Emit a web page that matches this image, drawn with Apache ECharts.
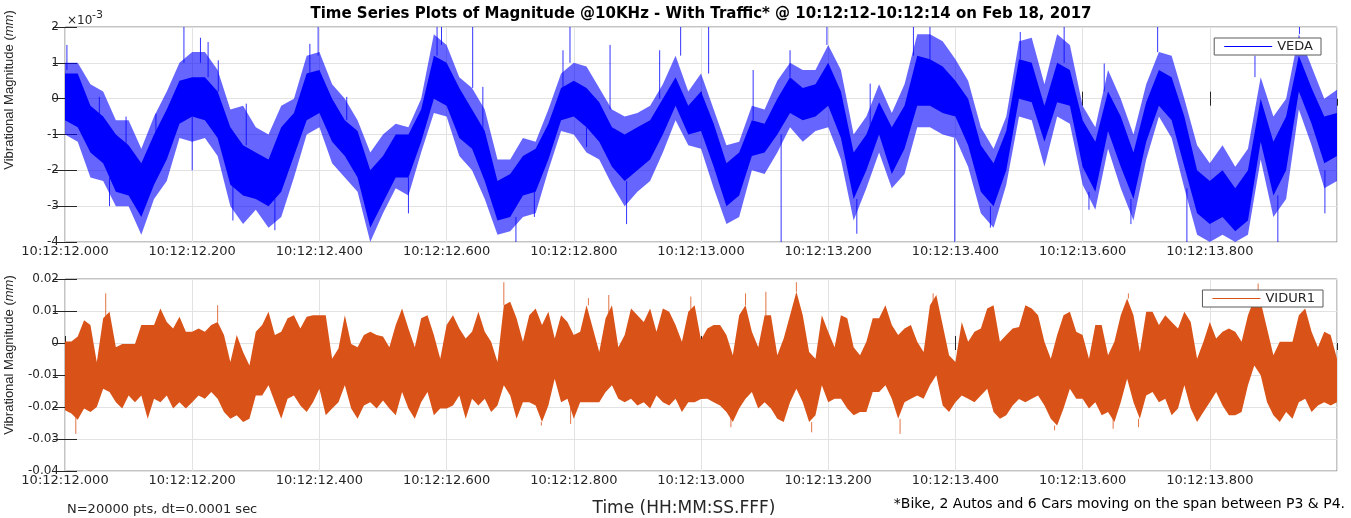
<!DOCTYPE html>
<html>
<head>
<meta charset="utf-8">
<title>Time Series Plots of Magnitude</title>
<script src="https://cdn.jsdelivr.net/npm/echarts@6/dist/echarts.min.js"></script>
<style>
html, body { margin: 0; padding: 0; background: #fff; }
#chart { width: 1351px; height: 518px; }
</style>
</head>
<body>
<div id="chart"></div>
<script>
// time in seconds after 10:12:12.000, magnitudes in 1e-3 mm
// VEDA envelope, read every 0.02 s
const vedaTime = [
  0.00, 0.02, 0.04, 0.06, 0.08, 0.10, 0.12, 0.14, 0.16, 0.18,
  0.20, 0.22, 0.24, 0.26, 0.28, 0.30, 0.32, 0.34, 0.36, 0.38,
  0.40, 0.42, 0.44, 0.46, 0.48, 0.50, 0.52, 0.54, 0.56, 0.58,
  0.60, 0.62, 0.64, 0.66, 0.68, 0.70, 0.72, 0.74, 0.76, 0.78,
  0.80, 0.82, 0.84, 0.86, 0.88, 0.90, 0.92, 0.94, 0.96, 0.98,
  1.00, 1.02, 1.04, 1.06, 1.08, 1.10, 1.12, 1.14, 1.16, 1.18,
  1.20, 1.22, 1.24, 1.26, 1.28, 1.30, 1.32, 1.34, 1.36, 1.38,
  1.40, 1.42, 1.44, 1.46, 1.48, 1.50, 1.52, 1.54, 1.56, 1.58,
  1.60, 1.62, 1.64, 1.66, 1.68, 1.70, 1.72, 1.74, 1.76, 1.78,
  1.80, 1.82, 1.84, 1.86, 1.88, 1.90, 1.92, 1.94, 1.96, 1.98,
  2.00
];
const vedaHi = [
  1.0, 1.0, 0.4, 0.2, -0.6, -0.6, -1.4, -0.5, 0.2, 1.0,
  1.3, 1.3, 0.8, -0.3, -0.2, -0.8, -1.0, -0.2, 0.0, 1.2,
  1.3, 0.4, 0.0, -0.6, -1.5, -1.0, -0.7, -0.8, 0.0, 1.8,
  1.5, 0.6, 0.3, -0.3, -1.7, -1.7, -1.1, -1.2, -0.3, 0.7,
  1.0, 0.9, 0.3, -0.3, -0.5, -0.4, -0.2, 0.4, 1.2, 0.2,
  0.7, -0.3, -1.3, -1.2, -0.2, -0.3, 0.5, 1.0, 0.8, 0.8,
  1.5, 0.8, -1.0, -0.5, 0.4, -0.4, 0.4, 1.8, 1.8, 1.6,
  1.1, 0.5, -0.8, -1.4, -0.5, 1.6, 1.7, 0.4, 1.8, 1.5,
  -0.2, -0.8, 0.8, 0.0, -1.0, 0.4, 1.3, 1.2, 0.0, -1.3,
  -1.8, -1.3, -1.9, -1.4, 0.6, -0.5, 0.0, 1.8, 0.9, 0.0,
  0.25
];
const vedaLo = [
  -1.0, -1.2, -2.2, -2.3, -3.0, -3.0, -3.8, -2.8, -2.3, -1.1,
  -1.2, -1.1, -1.6, -3.0, -3.5, -3.1, -3.6, -3.3, -2.2, -1.0,
  -0.8, -1.8, -2.2, -2.6, -4.0, -3.2, -2.5, -2.7, -1.5, -0.4,
  -0.5, -1.6, -2.0, -2.8, -3.8, -3.7, -3.3, -3.2, -2.0, -0.9,
  -1.0, -1.5, -1.7, -2.4, -3.0, -2.6, -2.3, -1.5, -0.6, -1.3,
  -1.4, -2.5, -3.5, -3.3, -2.0, -2.1, -1.5, -0.8, -1.2, -0.9,
  -0.8, -1.7, -3.4, -2.5, -1.5, -2.5, -2.1, -0.8, -0.8, -1.0,
  -1.1, -1.9, -3.2, -3.6, -2.4, -0.5, -0.6, -1.9, -0.5, -0.7,
  -2.4, -3.1, -1.4, -2.5, -3.4, -1.7, -0.5, -1.1, -2.5, -3.8,
  -4.0, -3.8, -4.0, -3.8, -1.7, -3.3, -2.8, -0.3, -1.3, -2.5,
  -2.3
];
// dense core of the VEDA trace
const vedaCoreHi = [
  0.7, 0.7, -0.2, -0.5, -1.0, -1.3, -1.8, -1.0, -0.3, 0.5,
  0.6, 0.6, 0.2, -0.8, -1.3, -1.5, -1.7, -0.8, -0.4, 0.7,
  0.8, 0.0, -0.6, -0.9, -2.0, -1.6, -1.0, -1.0, -0.3, 1.2,
  1.0, 0.3, -0.3, -0.9, -2.3, -2.1, -1.6, -1.4, -0.7, 0.3,
  0.5, 0.3, -0.1, -0.8, -1.0, -0.8, -0.6, 0.0, 0.6, -0.2,
  0.2, -0.7, -1.8, -1.5, -0.6, -0.7, 0.0, 0.6, 0.3, 0.4,
  1.0, 0.2, -1.5, -1.0, -0.1, -0.8, -0.2, 1.2, 1.1, 0.9,
  0.5, 0.0, -1.3, -1.8, -0.9, 1.1, 1.0, -0.2, 1.0, 0.8,
  -0.6, -1.2, 0.2, -0.5, -1.5, -0.1, 0.8, 0.6, -0.5, -2.0,
  -2.3, -2.0, -2.5, -2.0, 0.0, -1.2, -0.5, 1.2, 0.3, -0.5,
  -0.4
];
const vedaCoreLo = [
  -0.6, -0.8, -1.5, -1.8, -2.6, -2.7, -3.3, -2.4, -1.7, -0.7,
  -0.5, -0.6, -1.1, -2.4, -2.7, -2.8, -3.0, -2.6, -1.6, -0.6,
  -0.4, -1.2, -1.6, -2.2, -3.6, -2.9, -2.2, -2.2, -1.2, 0.0,
  -0.2, -1.1, -1.4, -2.3, -3.4, -3.3, -2.7, -2.6, -1.7, -0.6,
  -0.5, -0.8, -1.2, -1.9, -2.3, -2.0, -1.7, -1.0, -0.2, -1.0,
  -0.9, -1.9, -3.0, -2.7, -1.6, -1.5, -1.0, -0.4, -0.6, -0.5,
  -0.2, -1.1, -2.8, -2.0, -1.0, -2.1, -1.4, -0.2, -0.2, -0.4,
  -0.5, -1.3, -2.6, -3.0, -2.0, 0.0, -0.1, -1.2, -0.1, -0.2,
  -1.9, -2.6, -0.9, -1.9, -2.8, -1.2, -0.2, -0.6, -1.9, -3.2,
  -3.5, -3.3, -3.7, -3.4, -1.2, -2.7, -2.0, 0.2, -0.7, -1.8,
  -1.6
];
// individual VEDA spikes: time, start, tip
const vedaSpikeT = [
  0.003, 0.054, 0.070, 0.096, 0.143, 0.187, 0.200, 0.213, 0.225, 0.241,
  0.264, 0.285, 0.330, 0.385, 0.398, 0.443, 0.540, 0.585, 0.592, 0.641,
  0.657, 0.709, 0.738, 0.783, 0.794, 0.820, 0.857, 0.883, 0.935, 0.968,
  1.012, 1.082, 1.126, 1.140, 1.198, 1.245, 1.266, 1.334, 1.360, 1.399,
  1.455, 1.502, 1.571, 1.610, 1.634, 1.676, 1.718, 1.764, 1.871, 1.907,
  1.941, 1.981
];
const vedaSpikeFrom = [
  0.8, -0.5, -2.2, -1.3, -1.0, 1.0, -0.5, 1.0, 0.6, 0.2,
  -2.4, -1.3, -2.8, 0.7, 1.2, -0.6, -2.2, 1.2, 1.5, 0.3,
  -0.9, -3.3, -2.6, 0.3, 1.0, -0.8, -0.3, -2.3, 0.0, 1.2,
  0.7, -0.6, -1.0, 0.6, 1.5, -2.8, -1.0, 1.2, 1.1, -1.1,
  -3.0, 1.1, 1.0, -2.6, 0.2, -2.8, 1.3, -2.5, 0.6, -2.7,
  1.8, -2.0
];
const vedaSpikeTo = [
  1.5, 0.05, -3.0, -0.5, -0.42, 2.0, -2.0, 1.7, 1.58, 1.07,
  -3.4, -0.14, -3.67, 1.53, 2.0, 0.05, -3.2, 2.0, 2.0, 2.0,
  0.33, -4.0, -3.3, 1.35, 2.0, -1.35, 1.5, -3.5, 1.35, 2.0,
  2.0, 0.8, -4.0, 1.35, 2.0, -3.77, 0.42, 2.0, 2.0, -4.0,
  -3.6, 1.86, 2.0, -3.1, 0.98, -3.5, 2.0, -4.0, 1.2, -4.0,
  2.0, -3.2
];

// VIDUR1 envelope, read every 0.01 s
const vidurTime = [
  0.00, 0.01, 0.02, 0.03, 0.04, 0.05, 0.06, 0.07, 0.08, 0.09,
  0.10, 0.11, 0.12, 0.13, 0.14, 0.15, 0.16, 0.17, 0.18, 0.19,
  0.20, 0.21, 0.22, 0.23, 0.24, 0.25, 0.26, 0.27, 0.28, 0.29,
  0.30, 0.31, 0.32, 0.33, 0.34, 0.35, 0.36, 0.37, 0.38, 0.39,
  0.40, 0.41, 0.42, 0.43, 0.44, 0.45, 0.46, 0.47, 0.48, 0.49,
  0.50, 0.51, 0.52, 0.53, 0.54, 0.55, 0.56, 0.57, 0.58, 0.59,
  0.60, 0.61, 0.62, 0.63, 0.64, 0.65, 0.66, 0.67, 0.68, 0.69,
  0.70, 0.71, 0.72, 0.73, 0.74, 0.75, 0.76, 0.77, 0.78, 0.79,
  0.80, 0.81, 0.82, 0.83, 0.84, 0.85, 0.86, 0.87, 0.88, 0.89,
  0.90, 0.91, 0.92, 0.93, 0.94, 0.95, 0.96, 0.97, 0.98, 0.99,
  1.00, 1.01, 1.02, 1.03, 1.04, 1.05, 1.06, 1.07, 1.08, 1.09,
  1.10, 1.11, 1.12, 1.13, 1.14, 1.15, 1.16, 1.17, 1.18, 1.19,
  1.20, 1.21, 1.22, 1.23, 1.24, 1.25, 1.26, 1.27, 1.28, 1.29,
  1.30, 1.31, 1.32, 1.33, 1.34, 1.35, 1.36, 1.37, 1.38, 1.39,
  1.40, 1.41, 1.42, 1.43, 1.44, 1.45, 1.46, 1.47, 1.48, 1.49,
  1.50, 1.51, 1.52, 1.53, 1.54, 1.55, 1.56, 1.57, 1.58, 1.59,
  1.60, 1.61, 1.62, 1.63, 1.64, 1.65, 1.66, 1.67, 1.68, 1.69,
  1.70, 1.71, 1.72, 1.73, 1.74, 1.75, 1.76, 1.77, 1.78, 1.79,
  1.80, 1.81, 1.82, 1.83, 1.84, 1.85, 1.86, 1.87, 1.88, 1.89,
  1.90, 1.91, 1.92, 1.93, 1.94, 1.95, 1.96, 1.97, 1.98, 1.99,
  2.00
];
const vidurHi = [
  0.5, 0.5, 2, 7.1, 5.6, -6, 7.7, 9.8, -1.3, -0.3,
  -0.3, -0.3, 5.6, 5.6, 5.6, 10.8, 6.6, 4.5, 8.2, 3.5,
  3.5, 4.5, 3.5, 5.6, 6.6, 2.5, -5.9, 2.5, -2.8, -7,
  3.5, 5.6, 9.8, 2.5, 3.5, 7.7, 8.7, 4.5, 8.2, 8.7,
  8.7, 8.7, -4.9, -1.7, 8.7, -0.3, -1.3, 2.5, 3.5, 2.5,
  2, -1.3, 5.6, 10.8, 4.5, -1.3, 7.7, 8.7, 2.5, -4.9,
  5.6, 8.7, 4.5, 1.4, 3.5, 9.8, 3.5, 0.4, -5.9, 11.8,
  12.9, 7.7, 0.4, 8.7, 10.8, 5.6, 9.8, 1.4, 8.7, 6.6,
  2.5, 3.5, 11.8, 4.5, -2.8, 7.7, 11.8, -1.3, 2.5, 10.8,
  8.7, 6.6, 10.8, 3.5, 10.8, 9.8, 5.6, 0.4, 9.8, 11.8,
  1, 4.5, 5.6, 5.6, 2.5, -3.8, 8.7, 11.8, 3.5, -1.3,
  8.7, 8.7, -3.8, 1.4, 8.7, 16, 8.7, -2.8, -4.9, 8.7,
  3.5, -1.3, 8.7, 7.7, -1.3, -3.8, 0.4, 7.7, 7.7, 11.8,
  5.6, 2.5, 4.5, 5.6, 0.4, -2.8, 11.8, 15, 5.6, -3.8,
  -5.9, 6.6, 0.4, 3.5, 4.5, 10.8, 11.8, 0.4, 2.5, 4.5,
  5, 11.8, 10.8, 8.7, 0.4, -4.9, 2.5, 8.7, 9.8, 3.5,
  2.5, -4.9, 5.6, 5.6, -3.8, 0.4, 8.7, 13.9, 8.7, -2.8,
  9.8, 9.8, 5.6, 8.7, 6.6, 4.5, 9.8, 6.6, -4.9, 0.4,
  6.6, 1.4, 3.5, 4.5, 3.5, 0.4, 8.7, 13.9, 12.9, 4.5,
  -3.8, 0.4, 0.4, 0.4, 8.7, 10.8, 3.5, -1.3, 3.5, 2.5,
  -4.9
];
const vidurLo = [
  -21, -22, -24, -20.5, -21.6, -20, -14.3, -15.3, -18.5, -20.5,
  -16.4, -18.5, -16.4, -23.7, -17.4, -18.5, -16.4, -20.5, -18.5, -20.5,
  -18.5, -16.4, -17.4, -15.3, -17.4, -21.6, -23.7, -22.6, -24.7, -23.7,
  -16.4, -16.4, -13.2, -18.5, -23.7, -17.4, -16.4, -19.5, -21.6, -18.5,
  -14.3, -22.6, -20.5, -18.5, -13.2, -20.5, -23.7, -19.5, -18.5, -20.5,
  -18, -20.5, -22.6, -15.3, -20.5, -23.7, -18.5, -15.3, -22.6, -20.5,
  -20.5, -19.5, -16.4, -23.7, -17.4, -19.5, -17.4, -21.6, -19.5, -13.2,
  -16.4, -23.7, -18.5, -18.5, -19.5, -24.7, -19.5, -11.2, -18.5, -17.4,
  -23.7, -18.5, -18.5, -18.5, -18.5, -15.3, -13.2, -17.4, -18.5, -17.4,
  -19.5, -18.5, -20.5, -16.4, -18.5, -19.5, -17.4, -21.6, -18.5, -18.5,
  -17.5, -17.4, -18.5, -19.5, -21.6, -24.7, -20.5, -17.4, -15.3, -20.5,
  -18.5, -20.5, -23.7, -24.7, -18.5, -14.3, -18.5, -24.7, -22.6, -13.2,
  -18.5, -17.4, -17.4, -20.5, -22.6, -21.6, -21.6, -15.3, -15.3, -13.2,
  -17.4, -23.7, -18.5, -17.4, -16.4, -17.4, -13.2, -10.1, -19.5, -21.6,
  -18.5, -16.4, -17.4, -18.5, -16.4, -14.3, -21.6, -23.7, -22.6, -19.5,
  -17.5, -18.5, -17.4, -16.4, -19.5, -23.7, -25.8, -20.5, -14.3, -17.4,
  -17.4, -20.5, -18.5, -22.6, -21.6, -24.7, -18.5, -11.2, -18.5, -23.7,
  -16.4, -15.3, -18.5, -17.4, -22.6, -20.5, -13.2, -20.5, -24.7, -21.6,
  -18.5, -15.3, -19.5, -22.6, -22.6, -21.6, -13.2, -7.0, -10.1, -18.5,
  -22.6, -24.7, -21.6, -23.7, -18.5, -17.4, -21.6, -19.5, -18.5, -19.5,
  -18.5
];
const vidurSpikeT    = [0.017, 0.064, 0.240, 0.690, 0.749, 0.795, 0.823, 0.855, 0.984, 1.047, 1.070, 1.102, 1.150, 1.174, 1.313, 1.365, 1.556, 1.648, 1.672, 1.688, 1.876];
const vidurSpikeFrom = [-22, 7.7, 6.6, 11.8, -24.7, -20, 11.8, 8, 10, -22, 11.8, 8.7, 16, -24.7, -23.7, 12, -25.8, -22, 13.9, -23.7, 13.9];
const vidurSpikeTo   = [-28.4, 15.5, 11.8, 19.0, -25.8, -25.3, 14, 15, 14.5, -26.3, 15.5, 16, 19, -27.9, -28.4, 15.5, -27.3, -26.8, 15.5, -26.3, 18.6];

const BLUE = '#0000ff';
const ORANGE = '#d95319';
const TXT = '#262626';
const FONT = 'DejaVu Sans';

const fmtTime = v => '10:12:' + (12 + v).toFixed(3);

// filled band between lo and hi, one polygon drawn through the axis scales
function band(axis, times, lo, hi, color, opacity) {
  return {
    type: 'custom', xAxisIndex: axis, yAxisIndex: axis, silent: true, clip: true,
    data: [[times[0], lo[0]]],
    renderItem: (params, api) => {
      const pts = [];
      for (let i = 0; i < times.length; i++) pts.push(api.coord([times[i], hi[i]]));
      for (let i = times.length - 1; i >= 0; i--) pts.push(api.coord([times[i], lo[i]]));
      return { type: 'polygon', shape: { points: pts }, style: { fill: color, opacity: opacity } };
    }
  };
}

function spikes(axis, ts, from, to, color) {
  return {
    type: 'custom', xAxisIndex: axis, yAxisIndex: axis, silent: true, clip: true,
    data: ts.map((t, i) => [t, from[i], to[i]]),
    encode: { x: 0, y: [1, 2] },
    renderItem: (params, api) => {
      const a = api.coord([api.value(0), api.value(1)]);
      const b = api.coord([api.value(0), api.value(2)]);
      return {
        type: 'line',
        shape: { x1: a[0], y1: a[1], x2: b[0], y2: b[1] },
        style: { stroke: color, lineWidth: 1, opacity: 0.8 }
      };
    }
  };
}

function xAxes(gi) {
  const base = { gridIndex: gi, type: 'value', min: 0, max: 2, interval: 0.2,
    axisLine: { show: false },
    axisTick: { inside: true, length: 7, lineStyle: { color: TXT } } };
  return [
    Object.assign({}, base, { position: 'bottom',
      axisLabel: { formatter: fmtTime, showMaxLabel: false, margin: 3,
        fontFamily: FONT, fontSize: 13, color: TXT },
      splitLine: { show: true, lineStyle: { color: '#e2e2e2' } } }),
    Object.assign({}, base, { position: 'top',
      axisLabel: { show: false }, splitLine: { show: false } })
  ];
}

function yAxes(gi, min, max, interval, fmt) {
  const base = { gridIndex: gi, type: 'value', min: min, max: max, interval: interval,
    axisLine: { show: false },
    axisTick: { inside: true, length: 12, lineStyle: { color: TXT } } };
  return [
    Object.assign({}, base, { position: 'left',
      axisLabel: { formatter: fmt, margin: 6, fontFamily: FONT, fontSize: 12, color: TXT },
      splitLine: { show: true, lineStyle: { color: '#e2e2e2' } } }),
    Object.assign({}, base, { position: 'right',
      axisLabel: { show: false }, splitLine: { show: false } })
  ];
}

const legendBase = {
  orient: 'horizontal', itemWidth: 48, itemHeight: 1, padding: [2, 8, 2, 10],
  icon: 'path://M0,0H48V1H0Z',
  backgroundColor: '#fff', borderColor: '#5a5a5a', borderWidth: 1,
  textStyle: { fontFamily: FONT, fontSize: 13, color: TXT }
};

const chart = echarts.init(document.getElementById('chart'));
chart.setOption({
  animation: false,
  backgroundColor: '#fff',
  grid: [
    { left: 65, right: 14, top: 27, height: 215, show: true, borderColor: '#8a8a8a', borderWidth: 1 },
    { left: 65, right: 14, top: 279, height: 192, show: true, borderColor: '#8a8a8a', borderWidth: 1 }
  ],
  // axes 0,1 -> top plot ; 2,3 -> bottom plot
  xAxis: [].concat(xAxes(0), xAxes(1)),
  yAxis: [].concat(
    yAxes(0, -4, 2, 1, v => String(v)),
    yAxes(1, -40, 20, 10, v => v === 0 ? '0' : (v / 1000).toFixed(2))
  ),
  legend: [
    Object.assign({}, legendBase, { data: ['VEDA'], right: 30, top: 38 }),
    Object.assign({}, legendBase, { data: ['VIDUR1'], right: 28, top: 290 })
  ],
  series: [
    band(0, vedaTime, vedaLo, vedaHi, BLUE, 0.6),
    band(0, vedaTime, vedaCoreLo, vedaCoreHi, BLUE, 1),
    spikes(0, vedaSpikeT, vedaSpikeFrom, vedaSpikeTo, BLUE),
    band(2, vidurTime, vidurLo, vidurHi, ORANGE, 1),
    spikes(2, vidurSpikeT, vidurSpikeFrom, vidurSpikeTo, ORANGE),
    { type: 'line', name: 'VEDA', xAxisIndex: 0, yAxisIndex: 0, data: [], symbol: 'none',
      lineStyle: { color: BLUE, width: 1 }, itemStyle: { color: BLUE } },
    { type: 'line', name: 'VIDUR1', xAxisIndex: 2, yAxisIndex: 2, data: [], symbol: 'none',
      lineStyle: { color: ORANGE, width: 1 }, itemStyle: { color: ORANGE } }
  ],
  graphic: [
    { type: 'text', x: 701, y: 14, style: {
        text: 'Time Series Plots of Magnitude @10KHz - With Traffic* @ 10:12:12-10:12:14 on Feb 18, 2017',
        fontFamily: FONT, fontSize: 15, fontWeight: 'bold', fill: '#000',
        align: 'center', verticalAlign: 'middle', textAlign: 'center', textVerticalAlign: 'middle' } },
    { type: 'text', x: 67, y: 21, style: { text: '\u00d710', fontFamily: FONT, fontSize: 12, fill: TXT,
        verticalAlign: 'middle', textVerticalAlign: 'middle' } },
    { type: 'text', x: 92, y: 15, style: { text: '-3', fontFamily: FONT, fontSize: 11, fill: TXT,
        verticalAlign: 'middle', textVerticalAlign: 'middle' } },
    { type: 'text', x: 9, y: 90, rotation: Math.PI / 2, style: {
        text: 'Vibrational Magnitude ({i|mm})', rich: { i: { fontStyle: 'italic', fontFamily: 'Liberation Sans', fontSize: 13, fill: TXT } },
        fontFamily: 'Liberation Sans', fontSize: 13, fill: TXT,
        align: 'center', verticalAlign: 'middle', textAlign: 'center', textVerticalAlign: 'middle' } },
    { type: 'text', x: 9, y: 355, rotation: Math.PI / 2, style: {
        text: 'Vibrational Magnitude ({i|mm})', rich: { i: { fontStyle: 'italic', fontFamily: 'Liberation Sans', fontSize: 13, fill: TXT } },
        fontFamily: 'Liberation Sans', fontSize: 13, fill: TXT,
        align: 'center', verticalAlign: 'middle', textAlign: 'center', textVerticalAlign: 'middle' } },
    { type: 'text', x: 67, y: 510, style: { text: 'N=20000 pts, dt=0.0001 sec', fontFamily: FONT, fontSize: 13, fill: TXT,
        verticalAlign: 'middle', textVerticalAlign: 'middle' } },
    { type: 'text', x: 684, y: 509, style: { text: 'Time (HH:MM:SS.FFF)', fontFamily: FONT, fontSize: 17, fill: TXT,
        align: 'center', verticalAlign: 'middle', textAlign: 'center', textVerticalAlign: 'middle' } },
    { type: 'text', x: 1345, y: 504, style: { text: '*Bike, 2 Autos and 6 Cars moving on the span between P3 & P4.',
        fontFamily: FONT, fontSize: 14, fill: '#000',
        align: 'right', verticalAlign: 'middle', textAlign: 'right', textVerticalAlign: 'middle' } }
  ]
});
</script>
</body>
</html>
